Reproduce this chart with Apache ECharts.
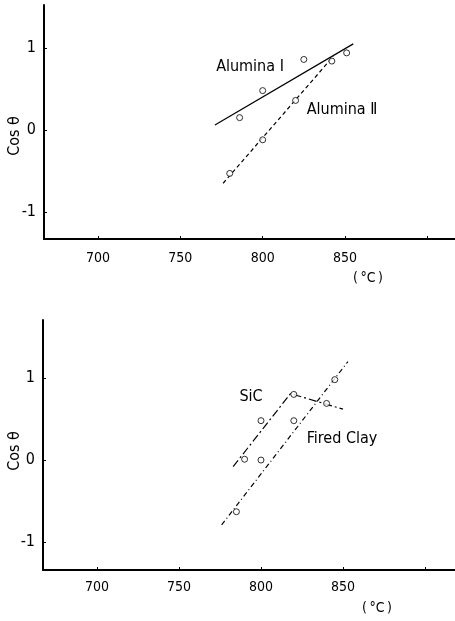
<!DOCTYPE html>
<html>
<head>
<meta charset="utf-8">
<script src="https://cdn.jsdelivr.net/npm/echarts@6/dist/echarts.min.js"></script>
<style>
  html, body { margin: 0; padding: 0; background: #fff; }
  #chart { width: 455px; height: 621px; }
</style>
</head>
<body>
<div id="chart"></div>
<script>
// Temperature ticks (°C) and cos θ ticks shared by both panels
const tempTicks = [700, 750, 800, 850, 900];
const tempLabels = [700, 750, 800, 850];
const cosTicks = [-1, 0, 1];

// Upper panel: alumina specimens (measured points)
const aluminaI_T = [786, 800, 825, 851];
const aluminaI_cos = [0.15, 0.48, 0.86, 0.94];
const aluminaII_T = [780, 800, 820, 842];
const aluminaII_cos = [-0.53, -0.12, 0.36, 0.84];

// Upper panel: fitted lines
const aluminaIFit_T = [771, 855];
const aluminaIFit_cos = [0.06, 1.05];
const aluminaIIFit_T = [776, 843];
const aluminaIIFit_cos = [-0.65, 0.90];

// Lower panel: SiC and fired clay (measured points)
const sic_T = [790, 800, 820, 840];
const sic_cos = [0.01, 0.48, 0.80, 0.69];
const clay_T = [785, 800, 820, 845];
const clay_cos = [-0.63, 0.0, 0.48, 0.98];

// Lower panel: fitted lines
const sicFit_T = [783, 818, 850];
const sicFit_cos = [-0.08, 0.81, 0.62];
const clayFit_T = [776, 853];
const clayFit_cos = [-0.79, 1.20];

const zip = (xs, ys) => xs.map((x, i) => [x, ys[i]]);

const FONT = "'DejaVu Sans Condensed', 'DejaVu Sans', sans-serif";
const INK = '#000';

function xAxisDef(gridIndex, min, max, margin) {
  return {
    type: 'value', gridIndex, min, max,
    splitLine: { show: false },
    axisLine: { show: true, onZero: false, lineStyle: { color: INK, width: 2 } },
    axisTick: { show: true, inside: true, length: 3, customValues: tempTicks, lineStyle: { color: INK } },
    axisLabel: { customValues: tempLabels, color: INK, fontSize: 14, fontFamily: FONT, margin }
  };
}
function yAxisDef(gridIndex, min, max) {
  return {
    type: 'value', gridIndex, min, max,
    splitLine: { show: false },
    axisLine: { show: true, onZero: false, lineStyle: { color: INK, width: 2 } },
    axisTick: { show: true, inside: true, length: 3, customValues: cosTicks, lineStyle: { color: INK } },
    axisLabel: { customValues: cosTicks, color: INK, fontSize: 16, fontFamily: FONT, margin: 8 }
  };
}

const pointStyle = {
  type: 'scatter', symbol: 'circle', symbolSize: 6,
  itemStyle: { color: '#fff', borderColor: INK, borderWidth: 1 },
  z: 5
};
function fitLine(xi, yi, data, dash) {
  return {
    type: 'line', xAxisIndex: xi, yAxisIndex: yi, data,
    showSymbol: false, symbol: 'none', silent: true,
    lineStyle: { color: INK, width: 1.2, type: dash }
  };
}

function text(x, y, str, size, extra) {
  return Object.assign({
    type: 'text', x, y,
    style: { text: str, fill: INK, font: size + 'px ' + FONT, textAlign: 'center', textVerticalAlign: 'middle' }
  }, extra || {});
}

const chart = echarts.init(document.getElementById('chart'), null, { renderer: 'canvas' });
chart.setOption({
  backgroundColor: '#fff',
  animation: false,
  grid: [
    { left: 44, right: 0, top: 5, height: 234 },
    { left: 43, right: 0, top: 320, height: 250 }
  ],
  xAxis: [
    xAxisDef(0, 667.2, 916.8, 12),
    xAxisDef(1, 667.07, 918.3, 10)
  ],
  yAxis: [
    yAxisDef(0, -1.33, 1.524),
    yAxisDef(1, -1.34, 1.707)
  ],
  series: [
    fitLine(0, 0, zip(aluminaIFit_T, aluminaIFit_cos), 'solid'),
    fitLine(0, 0, zip(aluminaIIFit_T, aluminaIIFit_cos), [4, 3]),
    Object.assign({ xAxisIndex: 0, yAxisIndex: 0, data: zip(aluminaI_T, aluminaI_cos) }, pointStyle),
    Object.assign({ xAxisIndex: 0, yAxisIndex: 0, data: zip(aluminaII_T, aluminaII_cos) }, pointStyle),
    fitLine(1, 1, zip(sicFit_T, sicFit_cos), [8, 3, 2, 3]),
    fitLine(1, 1, zip(clayFit_T, clayFit_cos), [5, 3, 1, 3]),
    Object.assign({ xAxisIndex: 1, yAxisIndex: 1, data: zip(sic_T, sic_cos) }, pointStyle),
    Object.assign({ xAxisIndex: 1, yAxisIndex: 1, data: zip(clay_T, clay_cos) }, pointStyle)
  ],
  graphic: [
    text(250, 67, 'Alumina \u2160', 16),
    text(342, 110, 'Alumina \u2161', 16),
    text(251, 397, 'SiC', 16),
    text(342, 439, 'Fired Clay', 16),
    text(368, 278, '(\u2009°C\u2009)', 14),
    text(377, 608, '(\u2009°C\u2009)', 14),
    text(15, 136, 'Cos θ', 16, { rotation: Math.PI / 2 }),
    text(15, 451, 'Cos θ', 16, { rotation: Math.PI / 2 })
  ]
});
</script>
</body>
</html>
